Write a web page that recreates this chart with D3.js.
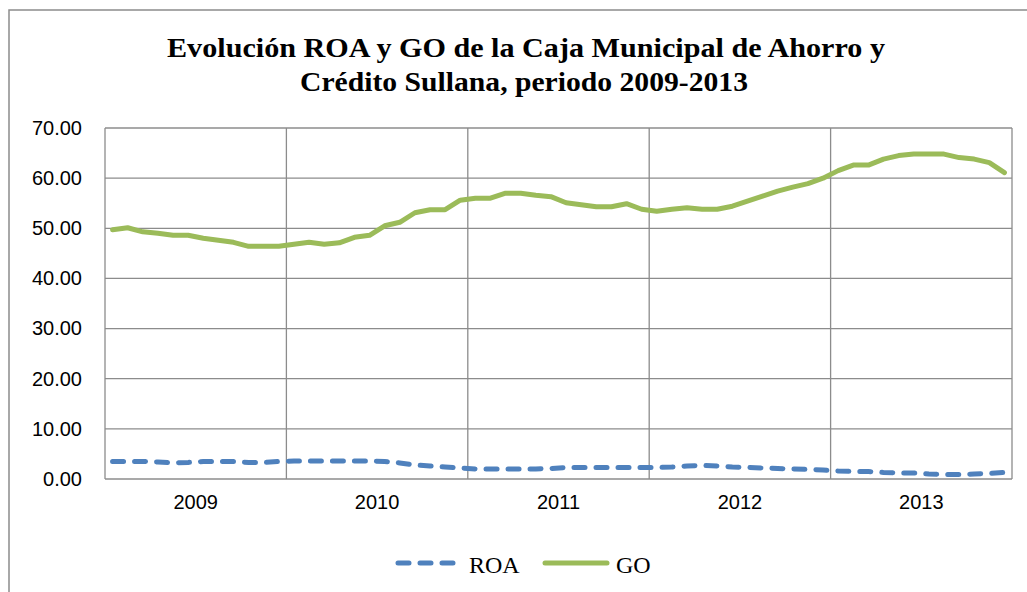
<!DOCTYPE html>
<head>
    <script src="https://d3js.org/d3.v7.min.js"></script>
    <style>
      body { margin: 0; background: #fff; }
    </style>
</head>

<body>
    <div id="chart"></div>
</body>

<script>

  // Data (monthly, 2009-2013)
  const years = ["2009", "2010", "2011", "2012", "2013"];
  const months = ["Ene","Feb","Mar","Abr","May","Jun","Jul","Ago","Set","Oct","Nov","Dic"];
  const yTicks = [0, 10, 20, 30, 40, 50, 60, 70];

  const roa = [
    3.5, 3.5, 3.5, 3.4, 3.2, 3.3, 3.5, 3.5, 3.5, 3.3, 3.3, 3.5,
    3.6, 3.6, 3.6, 3.6, 3.6, 3.6, 3.5, 3.2, 2.8, 2.6, 2.4, 2.2,
    2.0, 2.0, 2.0, 2.0, 2.0, 2.1, 2.3, 2.3, 2.3, 2.3, 2.3, 2.3,
    2.3, 2.4, 2.6, 2.7, 2.6, 2.4, 2.3, 2.2, 2.1, 2.0, 1.9, 1.8,
    1.6, 1.5, 1.5, 1.3, 1.2, 1.2, 1.0, 0.9, 0.9, 1.0, 1.1, 1.3
  ];
  const go = [
    49.7, 50.1, 49.3, 49.0, 48.6, 48.6, 48.0, 47.6, 47.2, 46.4, 46.4, 46.4,
    46.8, 47.2, 46.8, 47.1, 48.2, 48.6, 50.5, 51.2, 53.1, 53.7, 53.7, 55.6,
    56.0, 56.0, 57.0, 57.0, 56.6, 56.3, 55.1, 54.7, 54.3, 54.3, 54.9, 53.8,
    53.4, 53.8, 54.1, 53.8, 53.8, 54.4, 55.4, 56.4, 57.4, 58.2, 58.9, 60.0,
    61.5, 62.6, 62.6, 63.8, 64.5, 64.8, 64.8, 64.8, 64.1, 63.8, 63.1, 61.1
  ];

  const W = 1027, H = 592;
  const margin = {top: 128, right: 15, bottom: 113, left: 105},
    width = W - margin.left - margin.right,
    height = H - margin.top - margin.bottom;

  const periods = [];
  years.forEach(y => months.forEach(m => periods.push(y + "-" + m)));

  const svg = d3.select("#chart")
    .append("svg")
    .attr("width", W)
    .attr("height", H);

  // outer chart frame
  svg.append("rect")
    .attr("x", 9).attr("y", 10)
    .attr("width", W).attr("height", H)
    .attr("fill", "none")
    .attr("stroke", "#8c8c8c")
    .attr("stroke-width", 1.5);

  // Title
  const title = svg.append("text")
    .attr("text-anchor", "middle")
    .style("font-family", "'Liberation Serif', 'Times New Roman', serif")
    .style("font-weight", "bold")
    .style("font-size", "27px")
    .attr("fill", "#000");
  title.append("tspan").attr("x", 526).attr("y", 57)
    .attr("textLength", 718).attr("lengthAdjust", "spacingAndGlyphs")
    .text("Evolución ROA y GO de la Caja Municipal de Ahorro y");
  title.append("tspan").attr("x", 524).attr("y", 91)
    .attr("textLength", 448).attr("lengthAdjust", "spacingAndGlyphs")
    .text("Crédito Sullana, periodo 2009-2013");

  const g = svg.append("g")
    .attr("transform", `translate(${margin.left}, ${margin.top})`);

  // scales
  const x = d3.scaleBand().domain(periods).range([0, width]);
  const xYear = d3.scaleBand().domain(years).range([0, width]);
  const y = d3.scaleLinear().domain([0, 70]).range([height, 0]);

  // horizontal gridlines
  g.selectAll(".hgrid")
    .data(yTicks)
    .join("line")
    .attr("x1", 0).attr("x2", width)
    .attr("y1", d => y(d)).attr("y2", d => y(d))
    .attr("stroke", "#8c8c8c")
    .attr("stroke-width", 1.3);

  // vertical gridlines at year boundaries
  const bounds = years.map(d => xYear(d)).concat([width]);
  g.selectAll(".vgrid")
    .data(bounds)
    .join("line")
    .attr("x1", d => d).attr("x2", d => d)
    .attr("y1", 0).attr("y2", height)
    .attr("stroke", "#8c8c8c")
    .attr("stroke-width", 1.3);

  // Y axis labels
  const yAxis = g.append("g")
    .call(d3.axisLeft(y).tickValues(yTicks).tickFormat(d3.format(".2f")).tickSize(0).tickPadding(23));
  yAxis.select(".domain").remove();
  yAxis.selectAll("text")
    .style("font-family", "'Liberation Sans', Arial, sans-serif")
    .style("font-size", "20px")
    .attr("fill", "#000");

  // X axis labels (years)
  const xAxis = g.append("g")
    .attr("transform", `translate(0, ${height})`)
    .call(d3.axisBottom(xYear).tickSize(0).tickPadding(16));
  xAxis.select(".domain").remove();
  xAxis.selectAll("text")
    .style("font-family", "'Liberation Sans', Arial, sans-serif")
    .style("font-size", "20px")
    .attr("fill", "#000");

  const line = d3.line()
    .x((d, i) => x(periods[i]) + x.bandwidth() / 2)
    .y(d => y(d));

  g.append("path")
    .datum(go)
    .attr("d", line)
    .attr("fill", "none")
    .attr("stroke", "#9BBB59")
    .attr("stroke-width", 5)
    .attr("stroke-linejoin", "round")
    .attr("stroke-linecap", "round");

  g.append("path")
    .datum(roa)
    .attr("d", line)
    .attr("fill", "none")
    .attr("stroke", "#4F81BD")
    .attr("stroke-width", 5)
    .attr("stroke-linejoin", "round")
    .attr("stroke-linecap", "round")
    .attr("stroke-dasharray", "11,11");

  // Legend
  const legend = [
    {name: "ROA", color: "#4F81BD", dash: "11,11", x: 398},
    {name: "GO", color: "#9BBB59", dash: null, x: 545}
  ];
  const lg = svg.append("g");
  legend.forEach(d => {
    lg.append("line")
      .attr("x1", d.x).attr("x2", d.x + 62)
      .attr("y1", 563).attr("y2", 563)
      .attr("stroke", d.color)
      .attr("stroke-width", 5)
      .attr("stroke-linecap", "round")
      .attr("stroke-dasharray", d.dash);
    lg.append("text")
      .attr("x", d.x + 71).attr("y", 573)
      .style("font-family", "'Liberation Serif', 'Times New Roman', serif")
      .style("font-size", "24px")
      .attr("fill", "#000")
      .text(d.name);
  });

</script>
